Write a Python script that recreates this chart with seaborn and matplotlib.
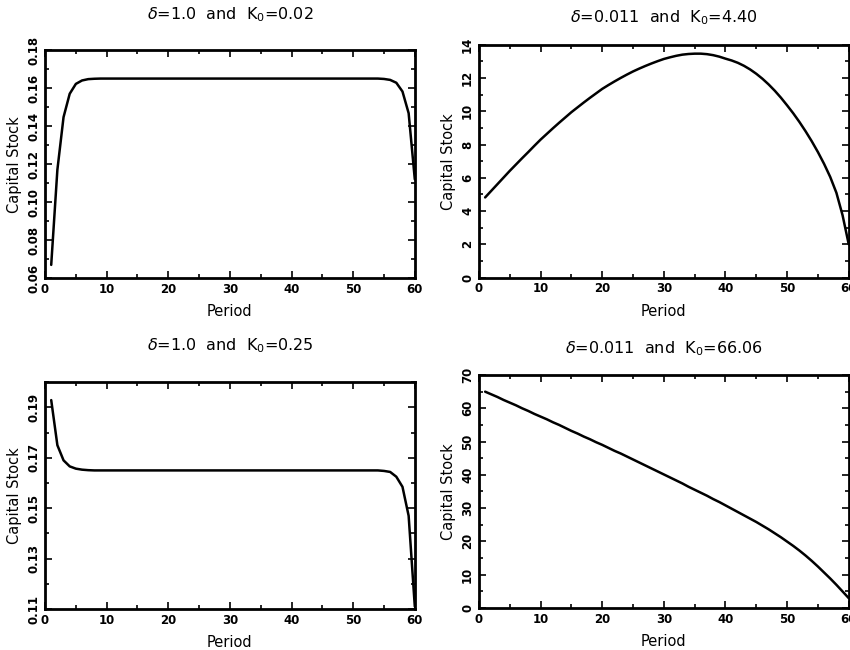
import numpy as np
import pandas as pd
import matplotlib
matplotlib.use("Agg")
import matplotlib.pyplot as plt
import seaborn as sns
from matplotlib.ticker import MultipleLocator

# capital stock paths, periods 1..60
periods = list(range(1, 61))

k_d1_low = [0.067, 0.117, 0.1447, 0.157, 0.1622, 0.164, 0.1647, 0.1649] + [0.165] * 46 + \
           [0.1648, 0.1643, 0.1628, 0.1582, 0.1468, 0.112]

k_d011_low = [4.82, 5.22, 5.62, 6.02, 6.42, 6.80, 7.18, 7.55, 7.93, 8.30,
              8.64, 8.98, 9.31, 9.63, 9.95, 10.24, 10.53, 10.81, 11.08, 11.35,
              11.58, 11.80, 12.01, 12.21, 12.40, 12.57, 12.73, 12.88, 13.02, 13.15,
              13.25, 13.34, 13.41, 13.45, 13.47, 13.47, 13.44, 13.38, 13.29, 13.17,
              13.06, 12.92, 12.74, 12.52, 12.26, 11.96, 11.62, 11.24, 10.82, 10.36,
              9.88, 9.36, 8.80, 8.20, 7.55, 6.84, 6.05, 5.10, 3.75, 2.00]

k_d1_high = [0.1929, 0.175, 0.169, 0.1666, 0.1657, 0.1653, 0.1651] + [0.165] * 47 + \
            [0.1648, 0.1644, 0.1625, 0.1585, 0.147, 0.111]

k_d011_high = [65.0, 64.2, 63.4, 62.5, 61.7, 60.9, 60.0, 59.2, 58.3, 57.5,
               56.7, 55.8, 55.0, 54.1, 53.2, 52.4, 51.5, 50.7, 49.8, 49.0,
               48.1, 47.2, 46.4, 45.5, 44.6, 43.7, 42.8, 41.9, 41.0, 40.1,
               39.2, 38.3, 37.4, 36.4, 35.5, 34.6, 33.7, 32.7, 31.8, 30.8,
               29.8, 28.8, 27.8, 26.8, 25.8, 24.7, 23.6, 22.4, 21.2, 19.9,
               18.6, 17.2, 15.7, 14.1, 12.4, 10.6, 8.8, 6.9, 4.9, 2.9]

titles = [r"$\delta$=1.0  and  K$_0$=0.02", r"$\delta$=0.011  and  K$_0$=4.40",
          r"$\delta$=1.0  and  K$_0$=0.25", r"$\delta$=0.011  and  K$_0$=66.06"]

sns.set_style("ticks")
plt.rcParams['font.family'] = ['DejaVu Sans']
plt.rcParams.update({"text.color": "black", "axes.labelcolor": "black",
                     "xtick.color": "black", "ytick.color": "black"})

fig = plt.figure(figsize=(8.5, 6.5), dpi=100)

# [left, bottom, width, height], data, ylim, major, minor, tick format, yticks, title pad
panels = [
    ([0.053, 0.572, 0.435, 0.351], k_d1_low, (0.06, 0.18), 0.02, 0.01, "{:.2f}", None, 22),
    ([0.5635, 0.573, 0.435, 0.358], k_d011_low, (0, 14), 2, 1, "{:.0f}", None, 16),
    ([0.053, 0.063, 0.435, 0.349], k_d1_high, (0.11, 0.20), 0.02, 0.01, "{:.2f}",
     [0.11, 0.13, 0.15, 0.17, 0.19], 23),
    ([0.5635, 0.065, 0.435, 0.358], k_d011_high, (0, 70), 10, 5, "{:.0f}", None, 16),
]

for (pos, vals, ylim, major, minor, fmt, yt, pad), title in zip(panels, titles):
    ax = fig.add_axes(pos)
    df = pd.DataFrame({"Period": periods, "Capital Stock": vals})
    sns.lineplot(data=df, x="Period", y="Capital Stock", ax=ax, color="black", linewidth=1.8)
    ax.set_xlim(0, 60)
    ax.set_ylim(*ylim)
    ax.xaxis.set_major_locator(MultipleLocator(10))
    ax.xaxis.set_minor_locator(MultipleLocator(5))
    if yt is None:
        yt = np.arange(ylim[0], ylim[1] + major / 2, major)
    ax.set_yticks(yt)
    ax.set_yticklabels([fmt.format(v) for v in yt], rotation=90, va="center")
    ax.yaxis.set_minor_locator(MultipleLocator(minor))
    ax.tick_params(which="both", direction="in", top=True, right=True, width=1.2)
    ax.tick_params(which="major", length=5, labelsize=8.5)
    ax.tick_params(which="minor", length=3)
    for lab in ax.get_xticklabels() + ax.get_yticklabels():
        lab.set_fontweight("bold")
    for s in ax.spines.values():
        s.set_linewidth(2)
        s.set_color("black")
    ax.set_xlabel("Period", fontsize=10.5, labelpad=6)
    ax.set_ylabel("Capital Stock", fontsize=10.5, labelpad=4)
    ax.set_title(title, fontsize=11.5, pad=pad)

fig.savefig("out.png", dpi=100)
